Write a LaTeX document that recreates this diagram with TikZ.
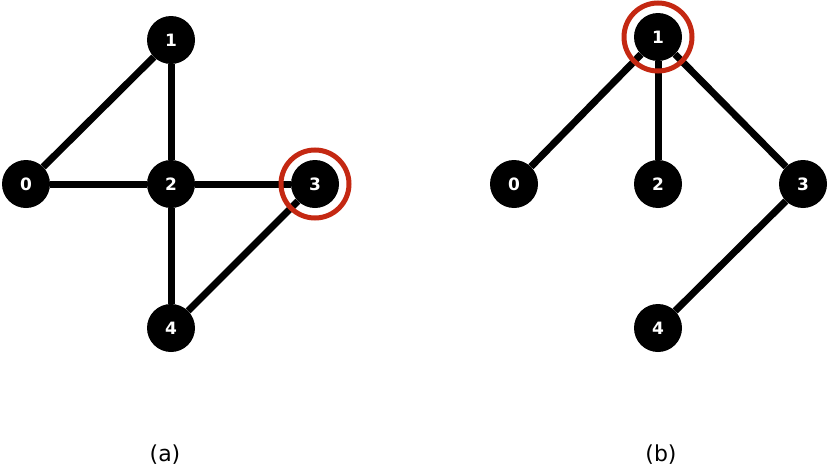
\documentclass[tikz,border=0pt]{standalone}
\usepackage{fontspec}
\setmainfont{DejaVu Sans}
\begin{document}
\begin{tikzpicture}[x=1pt,y=-1pt,
  vtx/.style={circle,fill=black,minimum size=48pt,inner sep=0pt,text=white,font=\bfseries\fontsize{17}{17}\selectfont},
  edge/.style={line width=7pt},
  ring/.style={circle,draw={rgb,255:red,196;green,40;blue,18},line width=5pt,minimum size=68pt,inner sep=0pt},
  caption/.style={font=\fontsize{22}{22}\selectfont}]
\useasboundingbox (0,0) rectangle (830,471);
% (a)
\node[vtx] (a0) at (26,184) {0};
\node[vtx] (a1) at (171,40) {1};
\node[vtx] (a2) at (171,184) {2};
\node[vtx] (a3) at (315,184) {3};
\node[vtx] (a4) at (171,328) {4};
\draw[edge] (a0) -- (a1);
\draw[edge] (a0) -- (a2);
\draw[edge] (a1) -- (a2);
\draw[edge] (a2) -- (a3);
\draw[edge] (a2) -- (a4);
\draw[edge] (a3) -- (a4);
\node[ring] (ra) at (315,184) {};
\node[caption] (la) at (165,455) {(a)};
% (b)
\node[vtx] (b0) at (514,184) {0};
\node[vtx] (b1) at (658,37) {1};
\node[vtx] (b2) at (658,184) {2};
\node[vtx] (b3) at (803,184) {3};
\node[vtx] (b4) at (658,328) {4};
\draw[edge] (b1) -- (b0);
\draw[edge] (b1) -- (b2);
\draw[edge] (b1) -- (b3);
\draw[edge] (b3) -- (b4);
\node[ring] (rb) at (658,37) {};
\node[caption] (lb) at (661,455) {(b)};
\end{tikzpicture}
\end{document}
